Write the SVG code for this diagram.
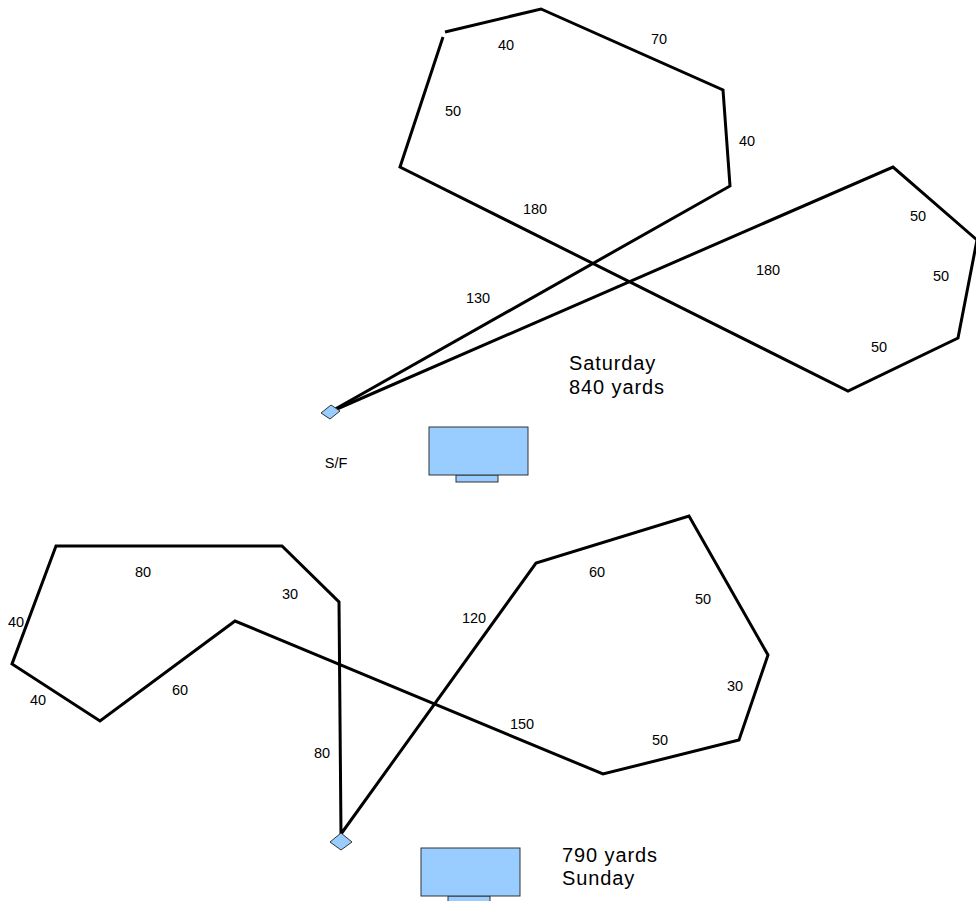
<svg xmlns="http://www.w3.org/2000/svg" width="976" height="901" viewBox="0 0 976 901">
<style>
.route{fill:none;stroke:#000;stroke-width:3;stroke-linejoin:miter;stroke-linecap:butt}
.mark{fill:#99ccff;stroke:#333;stroke-width:1}
.lbl{font-family:"Liberation Sans",Arial,sans-serif;font-size:14.5px;fill:#000;text-anchor:middle}
.big{font-family:"Liberation Sans",Arial,sans-serif;font-size:20px;fill:#000;letter-spacing:0.9px}
</style>
<rect width="976" height="901" fill="#fff"/>
<g id="connectors">
<polyline class="route" points="445,32 541,9 723,90 730,186 330,412"/>
<polyline class="route" points="443,37 400,167 848,391 958,338 977,240 893,167 330,412"/>
<polyline class="route" points="341,834 339,602 282,546 56,546 12,664 100,721 235,621 603,774 739,740 768,655 689,516 536,563 341,834"/>
</g>
<g id="sf-start">
<polygon class="mark" points="321,413 331,405 340,411 330,419"/>
<text class="lbl" x="336" y="468">S/F</text>
</g>
<g id="sat-tent">
<rect class="mark" x="456" y="475" width="42" height="7"/>
<rect class="mark" x="429" y="427" width="99" height="48"/>
</g>
<g id="sun-start">
<polygon class="mark" points="330,842 341,833 352,842 341,850"/>
</g>
<g id="sun-tent">
<rect class="mark" x="448" y="896" width="42" height="8"/>
<rect class="mark" x="421" y="848" width="99" height="48"/>
</g>
<g id="sat-labels">
<text class="lbl" x="506" y="50">40</text>
<text class="lbl" x="659" y="44">70</text>
<text class="lbl" x="453" y="116">50</text>
<text class="lbl" x="747" y="146">40</text>
<text class="lbl" x="535" y="214">180</text>
<text class="lbl" x="478" y="303">130</text>
<text class="lbl" x="768" y="275">180</text>
<text class="lbl" x="918" y="221">50</text>
<text class="lbl" x="941" y="281">50</text>
<text class="lbl" x="879" y="352">50</text>
<text class="big" x="569" y="370">Saturday</text>
<text class="big" x="569" y="394">840 yards</text>
</g>
<g id="sun-labels">
<text class="lbl" x="143" y="577">80</text>
<text class="lbl" x="290" y="599">30</text>
<text class="lbl" x="16" y="627">40</text>
<text class="lbl" x="38" y="705">40</text>
<text class="lbl" x="180" y="695">60</text>
<text class="lbl" x="597" y="577">60</text>
<text class="lbl" x="703" y="604">50</text>
<text class="lbl" x="474" y="623">120</text>
<text class="lbl" x="735" y="691">30</text>
<text class="lbl" x="522" y="729">150</text>
<text class="lbl" x="660" y="745">50</text>
<text class="lbl" x="322" y="758">80</text>
<text class="big" x="562" y="862">790 yards</text>
<text class="big" x="562" y="885">Sunday</text>
</g>
</svg>
